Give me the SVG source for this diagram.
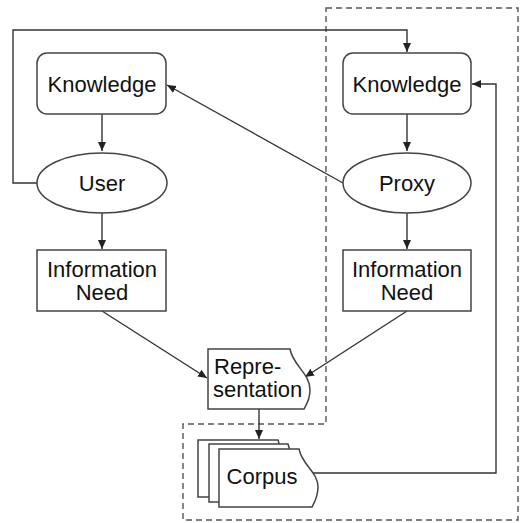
<svg xmlns="http://www.w3.org/2000/svg" width="521" height="523" viewBox="0 0 521 523">
<defs>
<style>
.n{fill:#fff;stroke:#444;stroke-width:1.5}
.c{fill:none;stroke:#333;stroke-width:1.4}
.d{fill:none;stroke:#555;stroke-width:1.4;stroke-dasharray:6 4}
text{font-family:"Liberation Sans",Arial,sans-serif;font-size:22px;fill:#111;text-anchor:middle}
</style>
<marker id="a" markerWidth="10" markerHeight="10" refX="9" refY="5" orient="auto" markerUnits="userSpaceOnUse">
<path d="M0,1 L9,5 L0,9 Z" fill="#222"/>
</marker>
</defs>
<rect width="521" height="523" fill="#fff"/>
<g id="boundary">
<path class="d" d="M326,8 H518 V520 H183 V424 H326 Z"/>
</g>
<g id="connectors">
<path class="c" d="M37,183 H13 V30 H407 V52" marker-end="url(#a)"/>
<path class="c" d="M102,114 V151" marker-end="url(#a)"/>
<path class="c" d="M102,213 V249" marker-end="url(#a)"/>
<path class="c" d="M407,114 V151" marker-end="url(#a)"/>
<path class="c" d="M407,213 V249" marker-end="url(#a)"/>
<path class="c" d="M343,183 L167,85" marker-end="url(#a)"/>
<path class="c" d="M102,311 L207,378" marker-end="url(#a)"/>
<path class="c" d="M407,311 L305,377" marker-end="url(#a)"/>
<path class="c" d="M259,409 V439" marker-end="url(#a)"/>
<path class="c" d="M313,473 H496 V84 H472" marker-end="url(#a)"/>
</g>
<g id="knowledge-user">
<rect class="n" x="37" y="53" width="129" height="61" rx="10"/>
<text x="102" y="92">Knowledge</text>
</g>
<g id="user">
<ellipse class="n" cx="102" cy="183" rx="65" ry="30"/>
<text x="102" y="191">User</text>
</g>
<g id="need-user">
<rect class="n" x="37" y="250" width="129" height="61"/>
<text x="102" y="277">Information</text>
<text x="102" y="300">Need</text>
</g>
<g id="knowledge-proxy">
<rect class="n" x="343" y="53" width="128" height="61" rx="10"/>
<text x="407" y="92">Knowledge</text>
</g>
<g id="proxy">
<ellipse class="n" cx="407" cy="183" rx="64" ry="30"/>
<text x="407" y="191">Proxy</text>
</g>
<g id="need-proxy">
<rect class="n" x="343" y="250" width="128" height="61"/>
<text x="407" y="277">Information</text>
<text x="407" y="300">Need</text>
</g>
<g id="representation">
<path class="n" d="M208,349 H290 C293,366 310,373 310,390 C310,400 306,405 304,409 H208 Z"/>
<text x="214" y="374" style="text-anchor:start">Repre-</text>
<text x="213" y="397" style="text-anchor:start">sentation</text>
</g>
<g id="corpus">
<path class="n" d="M198,440 H278 C281,456 297,463 297,478 C297,488 293,494 291,497 H198 Z"/>
<path class="n" d="M209,444 H288 C291,460 308,467 308,482 C308,492 304,498 302,502 H209 Z"/>
<path class="n" d="M219,449 H299 C302,465 318,472 318,487 C318,497 314,503 312,507 H219 Z"/>
<text x="262" y="484">Corpus</text>
</g>
</svg>
